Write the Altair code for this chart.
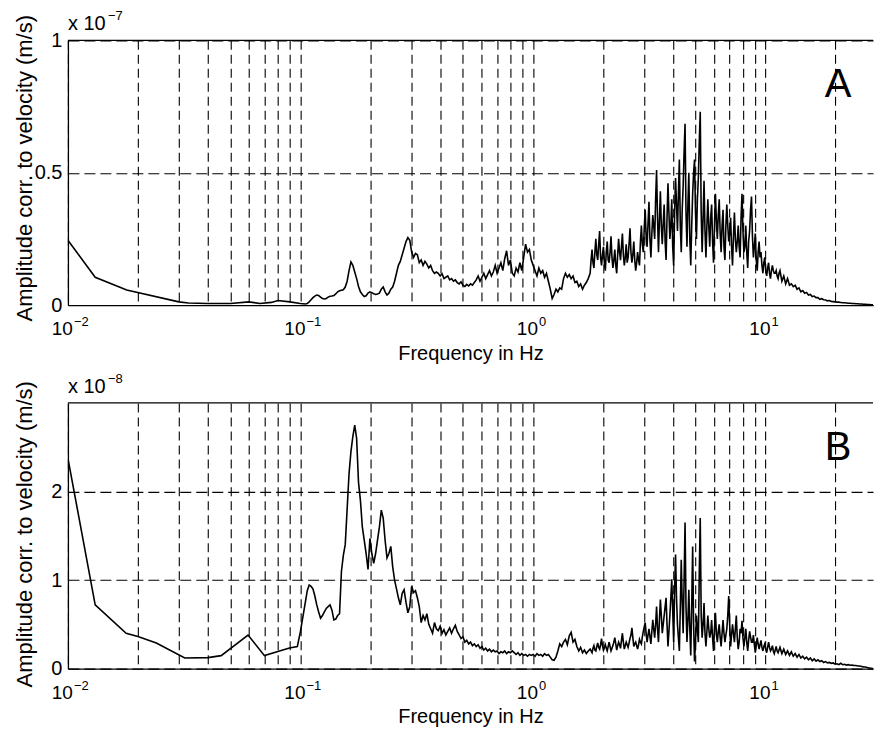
import altair as alt
import numpy as np
import pandas as pd

FONT = "Liberation Sans"

# ---------------- data ----------------
# x grid lines / decade tick labels
GRID_F = [0.01, 0.02, 0.03, 0.04, 0.05, 0.06, 0.07, 0.08, 0.09,
          0.1, 0.2, 0.3, 0.4, 0.5, 0.6, 0.7, 0.8, 0.9,
          1, 2, 3, 4, 5, 6, 7, 8, 9, 10, 20]
DECADE_F = [0.01, 0.1, 1, 10]
DECADE_BASE = ["10", "10", "10", "10"]
DECADE_EXP = ["\u22122", "\u22121", "0", "1"]

# sample frequencies (Hz) at which both spectra were read (log grid, 300 samples)
HI_F = np.geomspace(0.105, 29.0, 300)
# extra samples between grid points 150..250 (the dense 1.8-11 Hz band)
MID_F = np.sqrt(HI_F[150:250] * HI_F[151:251])

# Panel A (x 1e-7 m/s)
A_LOW_F = [0.01, 0.0131, 0.0179, 0.03, 0.033, 0.04, 0.05, 0.06, 0.067, 0.075, 0.08, 0.09, 0.1]
A_LOW_A = [0.245, 0.105, 0.057, 0.012, 0.008, 0.006, 0.006, 0.012, 0.006, 0.01, 0.017, 0.012, 0.006]
A_HI_A = [
    0.004, 0.006, 0.012, 0.02, 0.028, 0.034, 0.038, 0.036, 0.03, 0.025,
    0.023, 0.025, 0.03, 0.033, 0.034, 0.036, 0.042, 0.05, 0.054, 0.056,
    0.058, 0.068, 0.09, 0.13, 0.163, 0.15, 0.125, 0.1, 0.07, 0.05,
    0.04, 0.032, 0.035, 0.045, 0.05, 0.047, 0.043, 0.04, 0.042, 0.045,
    0.06, 0.068, 0.05, 0.038, 0.045, 0.06, 0.068, 0.09, 0.12, 0.15,
    0.165, 0.19, 0.215, 0.24, 0.255, 0.245, 0.2, 0.18, 0.195, 0.19,
    0.16, 0.17, 0.15, 0.165, 0.155, 0.14, 0.15, 0.13, 0.12, 0.125,
    0.12, 0.11, 0.118, 0.1, 0.105, 0.11, 0.095, 0.1, 0.09, 0.095,
    0.085, 0.08, 0.088, 0.075, 0.07, 0.078, 0.072, 0.08, 0.075, 0.085,
    0.095, 0.11, 0.09, 0.105, 0.12, 0.1, 0.115, 0.13, 0.11, 0.125,
    0.15, 0.12, 0.14, 0.16, 0.13, 0.175, 0.205, 0.15, 0.17, 0.12,
    0.11, 0.14, 0.125, 0.16, 0.13, 0.18, 0.23, 0.2, 0.21, 0.17,
    0.15, 0.13, 0.11, 0.14, 0.12, 0.13, 0.105, 0.12, 0.09, 0.06,
    0.025, 0.04, 0.06, 0.05, 0.065, 0.06, 0.1, 0.12, 0.105, 0.115,
    0.1, 0.11, 0.085, 0.09, 0.07, 0.08, 0.06, 0.075, 0.085, 0.1,
    0.12, 0.21, 0.14, 0.25, 0.17, 0.28, 0.15, 0.22, 0.13, 0.24,
    0.16, 0.26, 0.14, 0.21, 0.12, 0.25, 0.17, 0.27, 0.15, 0.23,
    0.18, 0.29, 0.16, 0.24, 0.13, 0.2, 0.15, 0.3, 0.2, 0.36,
    0.22, 0.39, 0.18, 0.34, 0.25, 0.51, 0.2, 0.43, 0.23, 0.38,
    0.17, 0.46, 0.25, 0.4, 0.15, 0.48, 0.28, 0.55, 0.2, 0.45,
    0.685, 0.22, 0.5, 0.15, 0.42, 0.55, 0.25, 0.48, 0.73, 0.2,
    0.47, 0.18, 0.4, 0.22, 0.38, 0.16, 0.42, 0.25, 0.4, 0.2,
    0.36, 0.17, 0.38, 0.24, 0.33, 0.15, 0.35, 0.2, 0.3, 0.18,
    0.42, 0.2, 0.3, 0.14, 0.28, 0.41, 0.18, 0.27, 0.13, 0.24,
    0.2, 0.12, 0.18, 0.11, 0.16, 0.1, 0.15, 0.12, 0.13, 0.1,
    0.13, 0.09, 0.11, 0.08, 0.1, 0.075, 0.08, 0.07, 0.075, 0.06,
    0.065, 0.05, 0.055, 0.045, 0.048, 0.038, 0.04, 0.032, 0.034, 0.028,
    0.028, 0.022, 0.024, 0.02, 0.019, 0.016, 0.017, 0.014, 0.013, 0.012,
    0.011, 0.011, 0.01, 0.009, 0.009, 0.008, 0.007, 0.007, 0.006, 0.006,
    0.005, 0.005, 0.004, 0.004, 0.003, 0.003, 0.002, 0.002, 0.001, 0.001,
]
A_MID_A = [
    0.17, 0.16, 0.2, 0.19, 0.23, 0.18, 0.19, 0.16, 0.2, 0.17,
    0.2, 0.18, 0.17, 0.15, 0.19, 0.2, 0.22, 0.19, 0.18, 0.16,
    0.23, 0.2, 0.19, 0.17, 0.16, 0.17, 0.24, 0.23, 0.29, 0.26,
    0.31, 0.25, 0.27, 0.3, 0.4, 0.33, 0.32, 0.3, 0.31, 0.24,
    0.33, 0.35, 0.3, 0.22, 0.35, 0.38, 0.42, 0.3, 0.36, 0.58,
    0.35, 0.38, 0.25, 0.3, 0.5, 0.35, 0.4, 0.62, 0.35, 0.33,
    0.28, 0.3, 0.3, 0.33, 0.24, 0.3, 0.32, 0.34, 0.27, 0.3,
    0.22, 0.3, 0.3, 0.27, 0.22, 0.26, 0.25, 0.24, 0.22, 0.33,
    0.28, 0.22, 0.2, 0.24, 0.36, 0.26, 0.22, 0.17, 0.2, 0.18,
    0.15, 0.16, 0.13, 0.14, 0.12, 0.13, 0.13, 0.12, 0.11, 0.12,
]

# Panel B (x 1e-8 m/s)
B_LOW_F = [0.01, 0.0131, 0.0178, 0.02, 0.024, 0.0318, 0.04, 0.0456, 0.0595, 0.07, 0.0897, 0.097, 0.1]
B_LOW_A = [2.375, 0.72, 0.40, 0.364, 0.29, 0.12, 0.125, 0.147, 0.38, 0.147, 0.233, 0.25, 0.42]
B_HI_A = [
    0.75, 0.88, 0.945, 0.93, 0.9, 0.82, 0.72, 0.64, 0.57, 0.6,
    0.64, 0.68, 0.7, 0.72, 0.66, 0.55, 0.56, 0.6, 0.62, 1.1,
    1.28, 1.4, 1.8, 2.2, 2.45, 2.62, 2.75, 2.6, 2.1, 1.9,
    1.6, 1.45, 1.3, 1.12, 1.47, 1.3, 1.19, 1.3, 1.45, 1.6,
    1.79, 1.7, 1.45, 1.25, 1.3, 1.38, 1.15, 1.0, 0.9, 0.8,
    0.72, 0.85, 0.89, 0.75, 0.63, 0.7, 0.93, 0.86, 0.88, 0.8,
    0.7, 0.52, 0.6, 0.55, 0.62, 0.5, 0.45, 0.4, 0.52, 0.45,
    0.43, 0.48, 0.4, 0.44, 0.38, 0.42, 0.46, 0.4, 0.45, 0.49,
    0.42, 0.38, 0.34, 0.36, 0.3, 0.32, 0.28, 0.3, 0.26, 0.28,
    0.25, 0.27, 0.23, 0.25, 0.21, 0.23, 0.2, 0.22, 0.19, 0.21,
    0.19, 0.2, 0.17, 0.19, 0.18, 0.2, 0.17, 0.19, 0.18, 0.2,
    0.18, 0.16, 0.18, 0.15, 0.17, 0.15, 0.16, 0.14, 0.16, 0.15,
    0.16, 0.14, 0.17, 0.15, 0.16, 0.14, 0.17, 0.15, 0.16, 0.13,
    0.1, 0.095, 0.13, 0.2, 0.28, 0.25, 0.3, 0.33, 0.27, 0.37,
    0.41, 0.3, 0.33, 0.25, 0.2, 0.24, 0.18, 0.21, 0.17, 0.2,
    0.22, 0.18, 0.26, 0.2, 0.29, 0.22, 0.34, 0.21, 0.27, 0.2,
    0.3, 0.2, 0.26, 0.35, 0.21, 0.3, 0.23, 0.4, 0.22, 0.3,
    0.24, 0.34, 0.46, 0.25, 0.3, 0.22, 0.33, 0.28, 0.42, 0.52,
    0.3, 0.45, 0.28, 0.55, 0.35, 0.7, 0.3, 0.78, 0.4, 0.6,
    0.8, 0.25, 0.6, 1.01, 0.3, 1.29, 0.5, 0.2, 1.23, 0.4,
    1.65, 0.3, 0.89, 0.15, 1.38, 0.08, 0.6, 0.3, 1.7, 0.35,
    0.74, 0.25, 0.6, 0.35, 0.55, 0.2, 0.63, 0.3, 0.5, 0.25,
    0.55, 0.3, 0.45, 0.82, 0.25, 0.5, 0.3, 0.6, 0.22, 0.45,
    0.54, 0.25, 0.45, 0.2, 0.42, 0.3, 0.38, 0.18, 0.35, 0.22,
    0.32, 0.2, 0.28, 0.18, 0.3, 0.2, 0.26, 0.17, 0.25, 0.18,
    0.24, 0.17, 0.22, 0.16, 0.2, 0.15, 0.19, 0.14, 0.17, 0.13,
    0.16, 0.12, 0.14, 0.11, 0.13, 0.1, 0.12, 0.09, 0.11, 0.085,
    0.1, 0.08, 0.09, 0.07, 0.08, 0.065, 0.07, 0.06, 0.065, 0.05,
    0.055, 0.045, 0.06, 0.045, 0.05, 0.04, 0.045, 0.038, 0.04, 0.035,
    0.035, 0.03, 0.03, 0.025, 0.02, 0.018, 0.012, 0.008, 0.004, 0.0,
]
B_MID_A = [
    0.2, 0.23, 0.21, 0.25, 0.24, 0.27, 0.26, 0.24, 0.23, 0.25,
    0.25, 0.23, 0.3, 0.28, 0.26, 0.27, 0.32, 0.3, 0.26, 0.27,
    0.29, 0.38, 0.35, 0.28, 0.26, 0.27, 0.3, 0.36, 0.47, 0.4,
    0.38, 0.36, 0.42, 0.45, 0.5, 0.45, 0.55, 0.6, 0.5, 0.7,
    0.5, 0.42, 0.8, 0.65, 0.9, 0.8, 0.35, 0.7, 0.75, 1.0,
    0.7, 0.55, 0.45, 0.7, 0.5, 0.3, 0.45, 1.1, 0.6, 0.5,
    0.4, 0.42, 0.45, 0.4, 0.35, 0.45, 0.4, 0.42, 0.35, 0.4,
    0.4, 0.38, 0.6, 0.5, 0.38, 0.4, 0.45, 0.35, 0.3, 0.4,
    0.35, 0.35, 0.3, 0.32, 0.36, 0.3, 0.27, 0.26, 0.28, 0.27,
    0.24, 0.25, 0.22, 0.24, 0.24, 0.22, 0.2, 0.21, 0.2, 0.21,
]

Y_TITLE = "Amplitude corr. to velocity (m/s)"
X_TITLE = "Frequency in Hz"
MULT_BASE = "x 10"

W = 806


def panel(low_f, low_a, hi_a, mid_a, ymax, yticks, mult_exp, letter, h, title_shift):
    df = pd.DataFrame({"f": list(low_f) + list(HI_F) + list(MID_F),
                       "a": list(low_a) + list(hi_a) + list(mid_a)})
    xs = alt.Scale(type="log", domain=[0.01, 29.0], nice=False)
    ys = alt.Scale(domain=[0, ymax], nice=False, zero=True)

    line = alt.Chart(df).mark_line(color="black", strokeWidth=1.6, clip=True).encode(
        x=alt.X("f:Q", scale=xs, axis=alt.Axis(
            values=GRID_F, labels=False, ticks=False,
            domain=True, domainColor="black", domainWidth=1.3,
            grid=True, gridColor="black", gridDash=[9, 5], gridWidth=1.1, gridOpacity=1,
            title=X_TITLE, titleFont=FONT, titleFontSize=20, titleFontWeight="normal",
            titleColor="black", titleY=54, titleBaseline="alphabetic")),
        y=alt.Y("a:Q", scale=ys, axis=alt.Axis(
            values=yticks, format="~g", ticks=False, labelPadding=6,
            labelFont=FONT, labelFontSize=20, labelColor="black",
            domain=True, domainColor="black", domainWidth=1.3,
            grid=True, gridColor="black", gridDash=[11, 5], gridWidth=1.1, gridOpacity=1,
            title=Y_TITLE, titleFont=FONT, titleFontSize=22, titleFontWeight="normal",
            titleColor="black", titleX=-36, titleY=h / 2 + title_shift,
            titleBaseline="alphabetic")),
    )

    top = alt.Chart(pd.DataFrame({"top": [ymax]})).mark_rule(
        color="black", strokeWidth=1.3).encode(y=alt.Y("top:Q", scale=ys))

    tdf = pd.DataFrame({"f": DECADE_F, "base": DECADE_BASE, "exp": DECADE_EXP})
    tbase = alt.Chart(tdf).mark_text(font=FONT, fontSize=19, align="right",
                                     baseline="alphabetic", dx=5, color="black").encode(
        x=alt.X("f:Q", scale=xs), y=alt.value(h + 30), text="base:N")
    texp = alt.Chart(tdf).mark_text(font=FONT, fontSize=13, align="left",
                                    baseline="alphabetic", dx=6, color="black").encode(
        x=alt.X("f:Q", scale=xs), y=alt.value(h + 21), text="exp:N")

    mdf = pd.DataFrame({"b": [MULT_BASE], "e": [mult_exp], "l": [letter]})
    mbase = alt.Chart(mdf).mark_text(font=FONT, fontSize=20, align="left",
                                     baseline="alphabetic", color="black").encode(
        x=alt.value(0), y=alt.value(-10), text="b:N")
    mexp = alt.Chart(mdf).mark_text(font=FONT, fontSize=13, align="left",
                                    baseline="alphabetic", color="black").encode(
        x=alt.value(40), y=alt.value(-20), text="e:N")
    let = alt.Chart(mdf).mark_text(font=FONT, fontSize=40, align="center",
                                   baseline="alphabetic", color="black").encode(
        x=alt.value(771), y=alt.value(57), text="l:N")

    return alt.layer(line, top, tbase, texp, mbase, mexp, let).properties(width=W, height=h)


pa = panel(A_LOW_F, A_LOW_A, A_HI_A, A_MID_A, 1.0, [0, 0.5, 1], "\u22127", "A", 265, -5)
pb = panel(B_LOW_F, B_LOW_A, B_HI_A, B_MID_A, 3.0, [0, 1, 2], "\u22128", "B", 266, -2)

chart = alt.vconcat(pa, pb, spacing=98, bounds="flush").properties(
    padding={"left": 13, "top": 10, "right": 0, "bottom": 0},
    background="white",
).configure_view(stroke=None)

chart.save("out.html", embed_options={"renderer": "svg", "actions": False})
